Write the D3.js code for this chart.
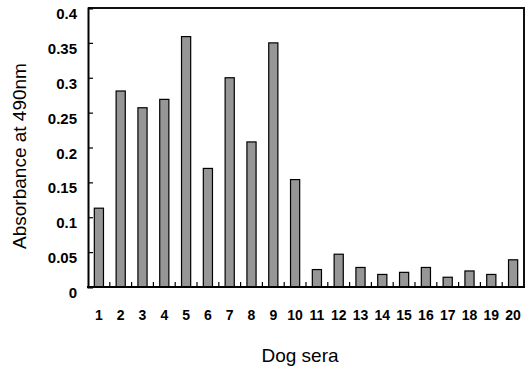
<!DOCTYPE html>
<html><head><meta charset="utf-8">
<script src="https://cdn.jsdelivr.net/npm/d3@7"></script>
<style>body{margin:0;background:#fff;}svg{display:block;}</style>
</head><body>
<script>
const categories = ["1","2","3","4","5","6","7","8","9","10","11","12","13","14","15","16","17","18","19","20"];
const values = [0.113,0.281,0.257,0.269,0.359,0.170,0.300,0.208,0.350,0.154,0.025,0.047,0.028,0.018,0.021,0.028,0.014,0.023,0.018,0.039];
const yTicks = [0,0.05,0.1,0.15,0.2,0.25,0.3,0.35,0.4];
const yTickLabels = ["0","0.05","0.1","0.15","0.2","0.25","0.3","0.35","0.4"];
const xTitle = "Dog sera";
const yTitle = "Absorbance at 490nm";

const W=527,H=372;
const L=88,R=524,T=8,B=287;
const svg=d3.select("body").append("svg").attr("width",W).attr("height",H);

const x=d3.scaleBand().domain(categories).range([L,R]).paddingInner(0.58).paddingOuter(0.29);
const xb=d3.scaleBand().domain(categories).range([L,R]).padding(0);
const y=d3.scaleLinear().domain([0,0.4]).range([B,T]);

// frame top/right
svg.append("path").attr("d",`M${L},${T}H${R}V${B}`).attr("fill","none").attr("stroke","#111").attr("stroke-width",2);

// bars
svg.selectAll("rect.bar").data(values).enter().append("rect")
  .attr("x",(d,i)=>x(categories[i])).attr("width",x.bandwidth())
  .attr("y",d=>y(d)).attr("height",d=>B-y(d))
  .attr("fill","#969696").attr("stroke","#000").attr("stroke-width",1.2);

// y axis
const yAxis=d3.axisLeft(y).tickValues(yTicks).tickSize(-5).tickFormat((d,i)=>yTickLabels[i]);
const gy=svg.append("g").attr("transform",`translate(${L},0)`).call(yAxis);
gy.select(".domain").attr("stroke","#000").attr("stroke-width",2);
gy.selectAll(".tick line").attr("stroke","#000").attr("stroke-width",1.2);
gy.selectAll(".tick text").attr("x",-11).attr("dy","0.7em")
  .attr("font-family","Liberation Sans, Arial, sans-serif").attr("font-weight","bold").attr("font-size","15px").attr("fill","#000");

// x axis (labels)
const xAxis=d3.axisBottom(x).tickSize(0).tickPadding(20);
const gx=svg.append("g").attr("transform",`translate(0,${B})`).call(xAxis);
gx.select(".domain").remove();
gx.selectAll(".tick text").attr("font-family","Liberation Sans, Arial, sans-serif").attr("font-weight","bold").attr("font-size","14px").attr("fill","#000").attr("dy","0.95em");
// x tick marks at category boundaries
svg.selectAll("line.xt").data(categories.slice(1)).enter().append("line")
  .attr("x1",d=>xb(d)).attr("x2",d=>xb(d)).attr("y1",B).attr("y2",B-5)
  .attr("stroke","#000").attr("stroke-width",1.2);
svg.append("line").attr("x1",L-1).attr("x2",R+1).attr("y1",B).attr("y2",B).attr("stroke","#000").attr("stroke-width",2);

// titles
svg.append("text").attr("x",300).attr("y",362).attr("text-anchor","middle")
  .attr("font-family","Liberation Sans, Arial, sans-serif").attr("font-size","19px").text(xTitle);
svg.append("text").attr("transform","translate(26,156) rotate(-90)").attr("text-anchor","middle")
  .attr("font-family","Liberation Sans, Arial, sans-serif").attr("font-size","19px").text(yTitle);
</script>
</body></html>
